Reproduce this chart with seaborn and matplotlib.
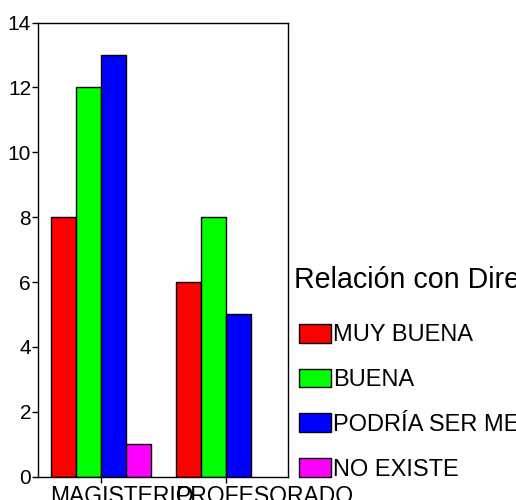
import matplotlib
matplotlib.use("Agg")
import matplotlib.pyplot as plt
import matplotlib.transforms as mtransforms
import pandas as pd
import seaborn as sns

# Counts per study track and relationship rating
tracks = ["MAGISTERIO", "PROFESORADO"]
ratings = ["MUY BUENA", "BUENA", "PODRÍA SER MEJOR", "NO EXISTE"]
magisterio_counts = [8, 12, 13, 1]
profesorado_counts = [6, 8, 5, None]
rating_colors = ["#FF0000", "#00FF00", "#0000FF", "#FF00FF"]
y_ticks = [0, 2, 4, 6, 8, 10, 12, 14]
legend_title = "Relación con Dirección"

rows = []
for track, counts in zip(tracks, [magisterio_counts, profesorado_counts]):
    for rating, n in zip(ratings, counts):
        if n is not None:
            rows.append({"track": track, "rating": rating, "n": n})
df = pd.DataFrame(rows)

sns.set_theme(style="ticks")
plt.rcParams["font.family"] = ["Liberation Sans", "DejaVu Sans"]
plt.rcParams["text.color"] = "black"
plt.rcParams["axes.labelcolor"] = "black"
plt.rcParams["xtick.color"] = "black"
plt.rcParams["ytick.color"] = "black"

fig = plt.figure(figsize=(5.16, 5.00), dpi=100)
ax = fig.add_axes([38 / 516, 23.3 / 500, 250 / 516, 454.2 / 500])

sns.barplot(
    data=df, x="track", y="n", hue="rating",
    order=tracks, hue_order=ratings,
    palette=rating_colors, saturation=1,
    edgecolor="black", linewidth=1.0,
    errorbar=None, width=0.8, ax=ax, legend=True,
)

ax.set_xlim(-0.5, 1.5)
ax.set_ylim(0, 14)
ax.set_yticks(y_ticks)
ax.set_xlabel("")
ax.set_ylabel("")
for side in ["left", "right", "top", "bottom"]:
    ax.spines[side].set_visible(True)
    ax.spines[side].set_linewidth(1.0)
    ax.spines[side].set_color("black")

ax.tick_params(axis="y", direction="out", length=4, width=1.0, pad=1,
               labelsize=15, colors="black")
ax.tick_params(axis="x", direction="out", length=4, width=1.0, pad=2,
               labelsize=16.5, colors="black")

# Category labels start at the left edge of each bar group
shift = mtransforms.ScaledTranslation(-0.50, 0, fig.dpi_scale_trans)
for lab in ax.get_xticklabels():
    lab.set_horizontalalignment("left")
    lab.set_transform(lab.get_transform() + shift)

fs = 17
fs_px = fs * 100 / 72
ax.get_legend().remove()
handles, labels = ax.get_legend_handles_labels()
leg = fig.legend(
    handles, labels, title=legend_title,
    loc="upper left", bbox_to_anchor=(299 / 516, 1 - 266 / 500),
    frameon=False, fontsize=fs, title_fontsize=20.6,
    borderpad=0, borderaxespad=0,
    handlelength=31.7 / fs_px, handleheight=20 / fs_px,
    handletextpad=2 / fs_px, labelspacing=0.94,
    alignment="left",
)
# extra room between the legend title and its entries; title sits a bit left
leg._legend_box.sep += 5.5
leg.get_title().set_position((-5, 0))

fig.savefig("out.png", dpi=100)
